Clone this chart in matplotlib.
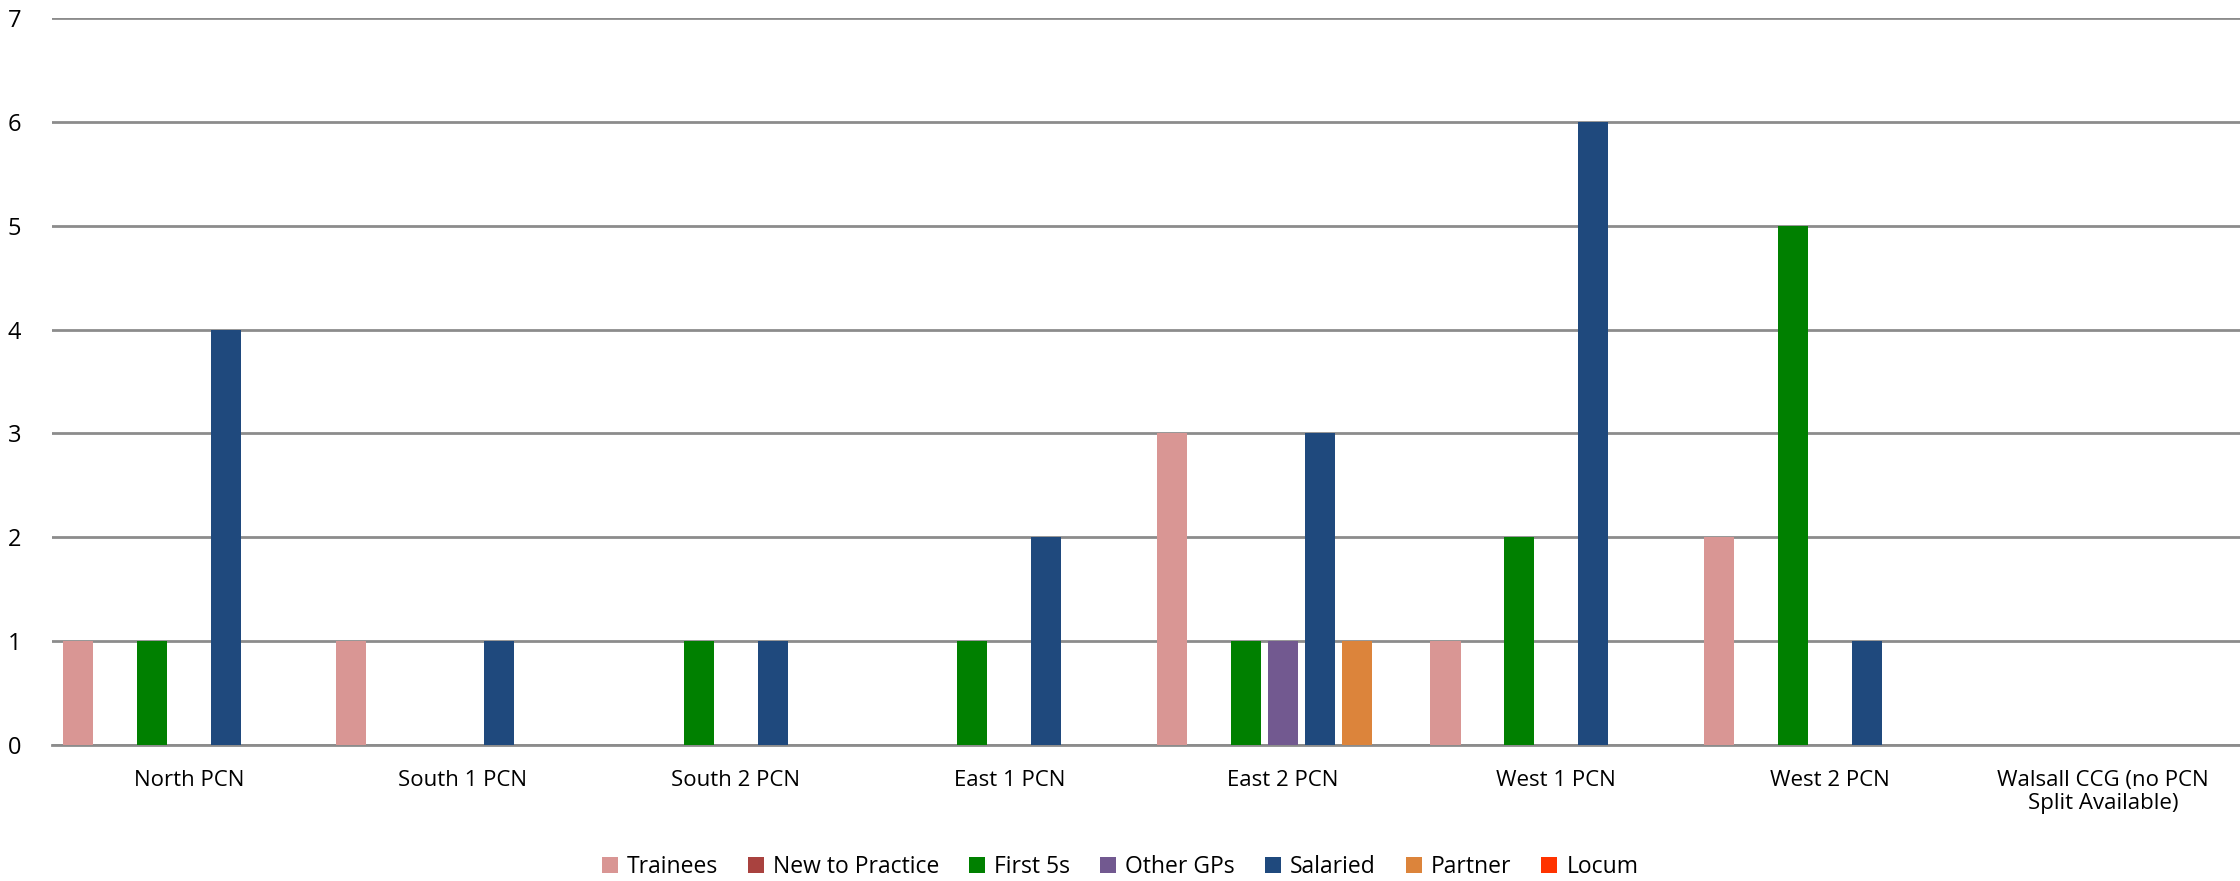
import numpy as np
import matplotlib.pyplot as plt

plt.rcParams['font.family'] = ['Open Sans', 'DejaVu Sans']

categories = ['North PCN', 'South 1 PCN', 'South 2 PCN', 'East 1 PCN', 'East 2 PCN',
              'West 1 PCN', 'West 2 PCN', 'Walsall CCG (no PCN\nSplit Available)']
series = ['Trainees', 'New to Practice', 'First 5s', 'Other GPs', 'Salaried', 'Partner', 'Locum']
colors = ['#D99694', '#A9423F', '#008000', '#725990', '#1F497D', '#DC843B', '#FF3300']

trainees = [1, 1, 0, 0, 3, 1, 2, 0]
new_to_practice = [0, 0, 0, 0, 0, 0, 0, 0]
first_5s = [1, 0, 1, 1, 1, 2, 5, 0]
other_gps = [0, 0, 0, 0, 1, 0, 0, 0]
salaried = [4, 1, 1, 2, 3, 6, 1, 0]
partner = [0, 0, 0, 0, 1, 0, 0, 0]
locum = [0, 0, 0, 0, 0, 0, 0, 0]

values = [trainees, new_to_practice, first_5s, other_gps, salaried, partner, locum]

fig = plt.figure(figsize=(22.4, 8.81), dpi=100)
ax = fig.add_axes([0.0232, 0.1544, 0.9768, 0.8252])

x = np.arange(len(categories))
pitch = 0.135
width = 0.11
for j, (name, vals, c) in enumerate(zip(series, values, colors)):
    ax.bar(x + (j - 3) * pitch, vals, width, color=c, label=name, zorder=3)

ax.set_xlim(-0.5, len(categories) - 0.5)
ax.set_ylim(0, 7)
ax.set_yticks(range(8))
ax.yaxis.grid(True, color='#8C8C8C', linewidth=2, zorder=0)
ax.set_axisbelow(True)
for s in ['top', 'right', 'left']:
    ax.spines[s].set_visible(False)
ax.spines['bottom'].set_color('#8C8C8C')
ax.spines['bottom'].set_linewidth(2)
ax.tick_params(axis='both', length=0, labelsize=16)
ax.tick_params(axis='y', labelsize=17, pad=22)
ax.tick_params(axis='x', pad=18)
ax.set_xticks(x)
ax.set_xticklabels(categories, linespacing=1.1)

# legend along the bottom edge of the figure
handles, labels = ax.get_legend_handles_labels()
fig.legend(handles, labels, loc='center', bbox_to_anchor=(0.5, 0.016), ncol=7,
           frameon=False, fontsize=16.5, handlelength=0.7, handleheight=0.7,
           handletextpad=0.4, columnspacing=1.3, borderpad=0.1)

fig.savefig('out.png', dpi=100)
